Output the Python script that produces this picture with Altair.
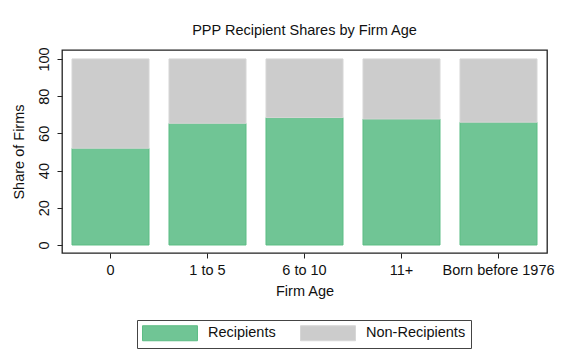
import altair as alt
import pandas as pd

categories = ["0", "1 to 5", "6 to 10", "11+", "Born before 1976"]
recipients = [52.0, 65.4, 68.5, 67.7, 66.0]
non_recipients = [48.0, 34.6, 31.5, 32.3, 34.0]
series = ["Recipients", "Non-Recipients"]
colors = ["#70c595", "#cccccc"]
strokes = ["#5dbd85", "#d6d6d6"]
y_ticks = [0, 20, 40, 60, 80, 100]

rows = []
for c, r, n in zip(categories, recipients, non_recipients):
    rows.append({"age": c, "group": series[0], "share": r, "ord": 0})
    rows.append({"age": c, "group": series[1], "share": n, "ord": 1})
df = pd.DataFrame(rows)

FONT = "Liberation Sans"

bars = alt.Chart(df).mark_bar(strokeWidth=1).encode(
    x=alt.X("age:N", sort=categories,
            scale=alt.Scale(paddingInner=0.206, paddingOuter=0.103),
            axis=alt.Axis(title="Firm Age", labelAngle=0, domain=False, ticks=True,
                          tickSize=5, tickColor="#222", labelPadding=5,
                          labelFontSize=14.5, titleFontSize=14.5, titleFontWeight="normal",
                          titlePadding=8, labelColor="#111", titleColor="#111")),
    y=alt.Y("share:Q", stack="zero",
            scale=alt.Scale(domain=[-4.3, 104.8], nice=False, zero=False),
            axis=alt.Axis(title="Share of Firms", values=y_ticks, grid=False, domain=False,
                          tickSize=5, tickColor="#222", labelAngle=270,
                          labelAlign="center", labelBaseline="bottom", labelPadding=6,
                          labelFontSize=14.5, titleFontSize=14.5, titleFontWeight="normal",
                          titlePadding=10, labelColor="#111", titleColor="#111")),
    color=alt.Color("group:N", sort=series,
                    scale=alt.Scale(domain=series, range=colors),
                    legend=alt.Legend(title=None, orient="none", legendX=75, legendY=270,
                                      direction="horizontal",
                                      symbolType="M-1,-1L6.33,-1L6.33,1L-1,1Z",
                                      symbolSize=225, symbolStrokeWidth=1,
                                      labelFontSize=14.5, labelOffset=50, columnPadding=22,
                                      padding=5, strokeColor="#444", fillColor="white",
                                      labelColor="#111")),
    stroke=alt.Stroke("group:N", scale=alt.Scale(domain=series, range=strokes), legend=None),
    order=alt.Order("ord:Q"),
)

chart = bars.properties(
    width=485, height=203,
    title=alt.TitleParams("PPP Recipient Shares by Firm Age", fontSize=14.5,
                          fontWeight="normal", font=FONT, color="#111", offset=8,
                          anchor="middle"),
    autosize=alt.AutoSizeParams(type="none"),
    padding={"left": 54, "top": 42, "right": 18, "bottom": 100},
).configure(
    font=FONT, background="white"
).configure_view(
    stroke="#222", strokeWidth=1.3
).configure_axis(
    labelFont=FONT, titleFont=FONT
).configure_legend(
    labelFont=FONT
)

chart.save("out.html", embed_options={"renderer": "svg", "actions": False})
